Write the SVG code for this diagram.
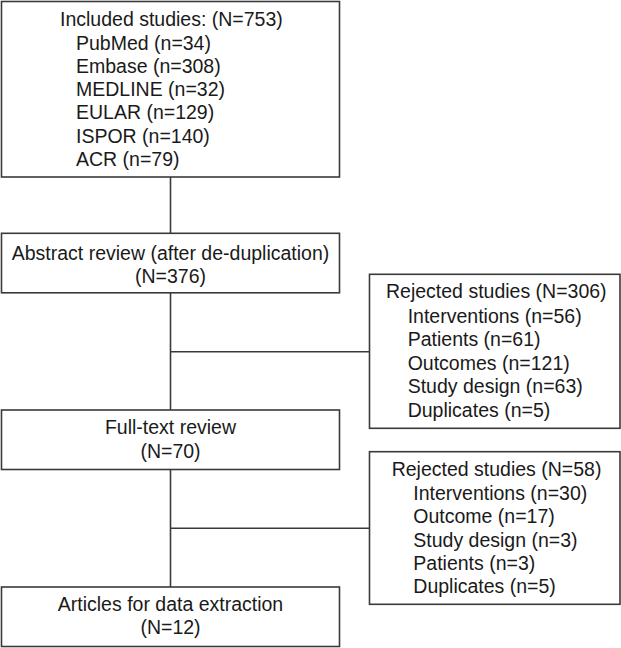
<svg xmlns="http://www.w3.org/2000/svg" width="621" height="648" viewBox="0 0 621 648">
<style>
.box{fill:#fff;stroke:#3a3a3a;stroke-width:1.6}
.ln{fill:none;stroke:#3a3a3a;stroke-width:1.6}
text{font-family:"Liberation Sans",Arial,sans-serif;font-size:19.5px;fill:#1a1a1a}
.c{text-anchor:middle}
</style>
<rect width="621" height="648" fill="#fff"/>
<g id="connectors">
<line class="ln" x1="170.5" y1="177" x2="170.5" y2="233"/>
<line class="ln" x1="170.5" y1="293" x2="170.5" y2="410"/>
<line class="ln" x1="170.5" y1="351.7" x2="369.5" y2="351.7"/>
<line class="ln" x1="170.5" y1="469.5" x2="170.5" y2="587"/>
<line class="ln" x1="170.5" y1="528.3" x2="369.5" y2="528.3"/>
</g>
<g id="included">
<rect class="box" x="1.5" y="1.5" width="338" height="175.5"/>
<text x="60" y="25.5">Included studies: (N=753)</text>
<text x="76" y="49.5">PubMed (n=34)</text>
<text x="76" y="72.8">Embase (n=308)</text>
<text x="76" y="96.1">MEDLINE (n=32)</text>
<text x="76" y="119.4">EULAR (n=129)</text>
<text x="76" y="142.7">ISPOR (n=140)</text>
<text x="76" y="166">ACR (n=79)</text>
</g>
<g id="abstract">
<rect class="box" x="1.5" y="233.3" width="338" height="59.5"/>
<text class="c" x="170.5" y="260">Abstract review (after de-duplication)</text>
<text class="c" x="170.5" y="283.3">(N=376)</text>
</g>
<g id="rejected1">
<rect class="box" x="369.5" y="274.3" width="250.5" height="154"/>
<text x="386" y="298">Rejected studies (N=306)</text>
<text x="407.7" y="322.5">Interventions (n=56)</text>
<text x="407.7" y="346">Patients (n=61)</text>
<text x="407.7" y="369.5">Outcomes (n=121)</text>
<text x="407.7" y="393">Study design (n=63)</text>
<text x="407.7" y="416.5">Duplicates (n=5)</text>
</g>
<g id="fulltext">
<rect class="box" x="1.5" y="410" width="338" height="59.5"/>
<text class="c" x="170.5" y="434.3">Full-text review</text>
<text class="c" x="170.5" y="457.5">(N=70)</text>
</g>
<g id="rejected2">
<rect class="box" x="369.5" y="451.7" width="250.5" height="152.6"/>
<text x="391.7" y="475.5">Rejected studies (N=58)</text>
<text x="413.3" y="500">Interventions (n=30)</text>
<text x="413.3" y="523.3">Outcome (n=17)</text>
<text x="413.3" y="546.6">Study design (n=3)</text>
<text x="413.3" y="569.9">Patients (n=3)</text>
<text x="413.3" y="593.2">Duplicates (n=5)</text>
</g>
<g id="articles">
<rect class="box" x="1.5" y="587" width="338" height="59.5"/>
<text class="c" x="170.5" y="611">Articles for data extraction</text>
<text class="c" x="170.5" y="634.3">(N=12)</text>
</g>
</svg>
